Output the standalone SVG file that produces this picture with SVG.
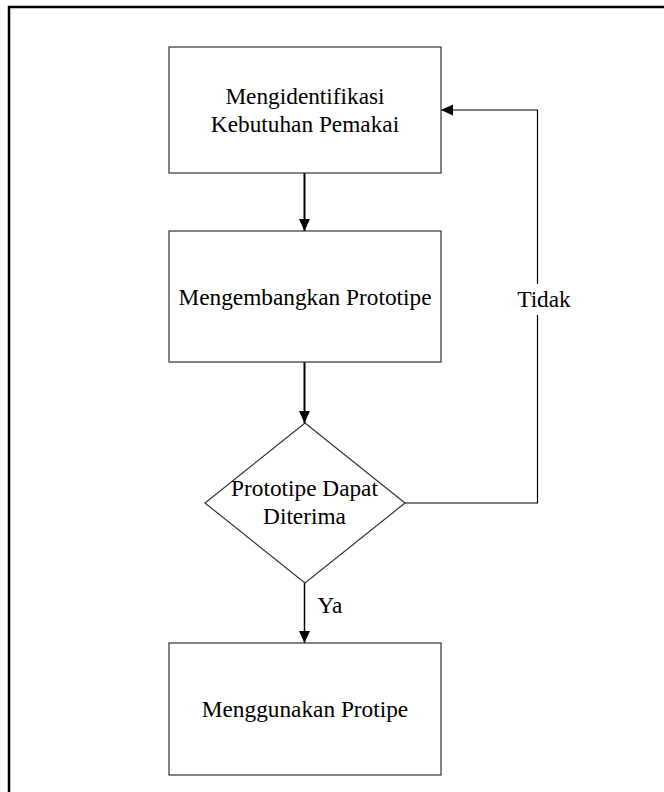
<svg xmlns="http://www.w3.org/2000/svg" width="664" height="792" viewBox="0 0 664 792">
<style>
.node{fill:#fff;stroke:#333;stroke-width:1.2}
.t{font-family:"Liberation Serif","Times New Roman",serif;font-size:23.3px;fill:#000;text-anchor:middle}
.c{fill:none;stroke:#000}
</style>
<defs>
<marker id="ah" viewBox="0 0 12 12" refX="12" refY="6" markerWidth="12" markerHeight="12" markerUnits="userSpaceOnUse" orient="auto">
<path d="M0,0.5 L12,6 L0,11.5 Z" fill="#000"/>
</marker>
</defs>
<rect width="664" height="792" fill="#fff"/>
<rect x="9" y="7" width="700" height="820" fill="none" stroke="#000" stroke-width="2.5"/>
<g id="connectors">
<line class="c" x1="304.5" y1="173" x2="304.5" y2="231" stroke-width="2" marker-end="url(#ah)"/>
<line class="c" x1="304.5" y1="362" x2="304.5" y2="423" stroke-width="2" marker-end="url(#ah)"/>
<line class="c" x1="304.5" y1="583" x2="304.5" y2="643" stroke-width="1.5" stroke="#444" marker-end="url(#ah)"/>
<polyline class="c" points="405,503 537.5,503 537.5,110 441,110" stroke-width="1.2" marker-end="url(#ah)"/>
<rect x="512" y="284" width="62" height="31" fill="#fff"/>
<text class="t" x="544" y="307">Tidak</text>
<text class="t" x="330" y="613">Ya</text>
</g>
<g id="n1">
<rect class="node" x="169" y="47" width="272" height="126"/>
<text class="t" x="305" y="104">Mengidentifikasi</text>
<text class="t" x="305" y="132">Kebutuhan Pemakai</text>
</g>
<g id="n2">
<rect class="node" x="169" y="231" width="272" height="131"/>
<text class="t" x="305" y="305">Mengembangkan Prototipe</text>
</g>
<g id="n3">
<polygon class="node" points="305,423 405,503 305,583 205,503"/>
<text class="t" x="304.5" y="496">Prototipe Dapat</text>
<text class="t" x="304.5" y="524">Diterima</text>
</g>
<g id="n4">
<rect class="node" x="169" y="643" width="272" height="132"/>
<text class="t" x="305" y="717">Menggunakan Protipe</text>
</g>
</svg>
